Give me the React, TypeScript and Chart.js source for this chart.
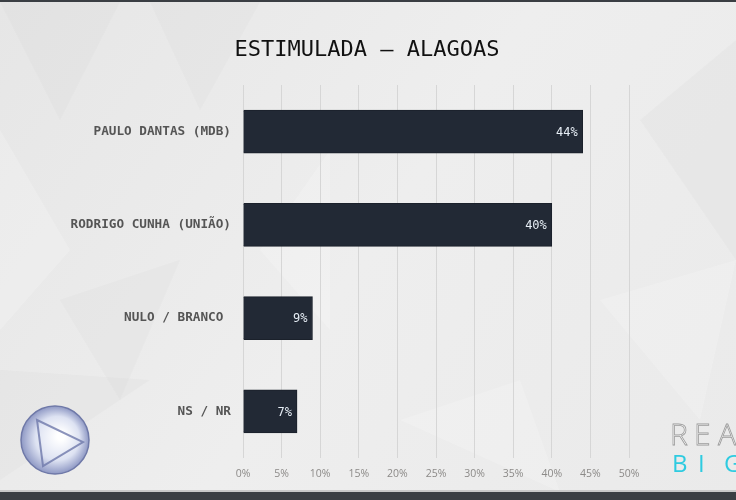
import React, { useEffect, useRef } from "react";
import { Chart, registerables } from "chart.js";

Chart.register(...registerables);

const categories = ["PAULO DANTAS (MDB)", "RODRIGO CUNHA (UNIÃO)", "NULO / BRANCO ", "NS / NR"];
const values = [44, 40, 9, 7];
const xTicks = [0, 5, 10, 15, 20, 25, 30, 35, 40, 45, 50];
const titleText = "ESTIMULADA — ALAGOAS";

const backgroundPlugin = {
  id: "bgDeco",
  beforeDraw(chart: any) {
    const { ctx, width, height } = chart;
    ctx.save();
    const g = ctx.createLinearGradient(0, 0, width, height);
    g.addColorStop(0, "#e6e6e6");
    g.addColorStop(0.5, "#eeeeee");
    g.addColorStop(1, "#eaeaea");
    ctx.fillStyle = g;
    ctx.fillRect(0, 0, width, height);
    const polys: number[][] = [
      [0, 2, 120, 2, 60, 120],
      [0, 130, 70, 250, 0, 330],
      [150, 2, 260, 2, 200, 110],
      [260, 250, 330, 150, 330, 330],
      [640, 120, 736, 40, 736, 260],
      [600, 300, 736, 260, 700, 420],
      [60, 300, 180, 260, 120, 400],
      [400, 420, 520, 380, 560, 492],
      [0, 370, 150, 380, 0, 480],
    ];
    polys.forEach((p, i) => {
      ctx.beginPath();
      ctx.moveTo(p[0], p[1]);
      ctx.lineTo(p[2], p[3]);
      ctx.lineTo(p[4], p[5]);
      ctx.closePath();
      ctx.fillStyle = i % 2 ? "rgba(255,255,255,0.18)" : "rgba(205,205,205,0.15)";
      ctx.fill();
    });
    // title
    ctx.font = "22px 'DejaVu Sans Mono', monospace";
    ctx.fillStyle = "#111111";
    ctx.textAlign = "center";
    ctx.textBaseline = "middle";
    ctx.fillText(titleText, 367, 50);
    // top and bottom frame strips
    ctx.fillStyle = "#3a3e43";
    ctx.fillRect(0, 0, width, 2);
    ctx.fillStyle = "#c9c9c9";
    ctx.fillRect(0, 490, width, 2);
    ctx.fillStyle = "#3b3f44";
    ctx.fillRect(0, 492, width, 8);
    // logo sphere
    const cx = 55, cy = 440, r = 34;
    const rg = ctx.createRadialGradient(cx + 6, cy - 4, 4, cx, cy, r);
    rg.addColorStop(0, "#ffffff");
    rg.addColorStop(0.6, "#dde2f2");
    rg.addColorStop(1, "#8e98c4");
    ctx.beginPath();
    ctx.arc(cx, cy, r, 0, Math.PI * 2);
    ctx.fillStyle = rg;
    ctx.fill();
    ctx.lineWidth = 1.5;
    ctx.strokeStyle = "#6f79a8";
    ctx.stroke();
    ctx.beginPath();
    ctx.moveTo(cx - 18, cy - 20);
    ctx.lineTo(cx + 28, cy + 2);
    ctx.lineTo(cx - 12, cy + 26);
    ctx.closePath();
    ctx.strokeStyle = "rgba(110,120,170,0.8)";
    ctx.lineWidth = 2;
    ctx.stroke();
    // brand text
    ctx.font = "300 30px 'Open Sans', sans-serif";
    ctx.fillStyle = "#ffffff";
    ctx.strokeStyle = "#9a9a9a";
    ctx.lineWidth = 0.8;
    ctx.textBaseline = "alphabetic";
    ctx.textAlign = "left";
    ["R", "E", "A"].forEach((c, i) => {
      ctx.fillText(c, 670 + i * 24, 445);
      ctx.strokeText(c, 670 + i * 24, 445);
    });
    ctx.font = "24px 'Open Sans', sans-serif";
    ctx.fillStyle = "#2ecbe0";
    ["B", "I", "G"].forEach((c, i) => {
      ctx.fillText(c, 672 + i * 26, 472);
    });
    ctx.restore();
  },
};

const valueLabelPlugin = {
  id: "valueLabels",
  afterDatasetsDraw(chart: any) {
    const { ctx } = chart;
    const meta = chart.getDatasetMeta(0);
    ctx.save();
    ctx.font = "12px 'DejaVu Sans Mono', monospace";
    ctx.fillStyle = "#e6edf5";
    ctx.textAlign = "right";
    ctx.textBaseline = "middle";
    meta.data.forEach((bar: any, i: number) => {
      ctx.fillText(values[i] + "%", bar.x - 5, bar.y + 1);
    });
    ctx.restore();
  },
};

export default function App() {
  const ref = useRef<HTMLCanvasElement>(null);
  useEffect(() => {
    document.body.style.margin = "0";
    const chart = new Chart(ref.current as HTMLCanvasElement, {
      type: "bar",
      data: {
        labels: categories,
        datasets: [
          {
            data: values,
            backgroundColor: "#222935",
            borderColor: "#1b212b",
            borderWidth: 1,
            barThickness: 43,
          },
        ],
      },
      options: {
        indexAxis: "y",
        responsive: false,
        animation: false,
        layout: { padding: { left: 0, right: 107, top: 85, bottom: 0 } },
        plugins: {
          legend: { display: false },
          tooltip: { enabled: false },
          title: { display: false },
        },
        scales: {
          x: {
            min: 0,
            max: 50,
            afterBuildTicks: (scale: any) => {
              scale.ticks = xTicks.map((v) => ({ value: v }));
            },
            afterFit: (scale: any) => {
              scale.height = 42;
            },
            grid: { display: true, color: "#d6d6d6", drawTicks: false, lineWidth: 1 },
            border: { display: false },
            ticks: {
              padding: 10,
              color: "#8c8a88",
              font: { family: "'Open Sans', sans-serif", size: 10.5 },
              callback: (v: any) => v + "%",
            },
          },
          y: {
            afterFit: (scale: any) => {
              scale.width = 243;
            },
            grid: { display: false },
            border: { display: false },
            ticks: {
              padding: 4,
              color: "#555555",
              font: { family: "'DejaVu Sans Mono', monospace", size: 12.7, weight: "bold" },
            },
          },
        },
      },
      plugins: [backgroundPlugin, valueLabelPlugin],
    } as any);
    return () => chart.destroy();
  }, []);
  return <canvas ref={ref} width={736} height={500} style={{ display: "block" }} />;
}
